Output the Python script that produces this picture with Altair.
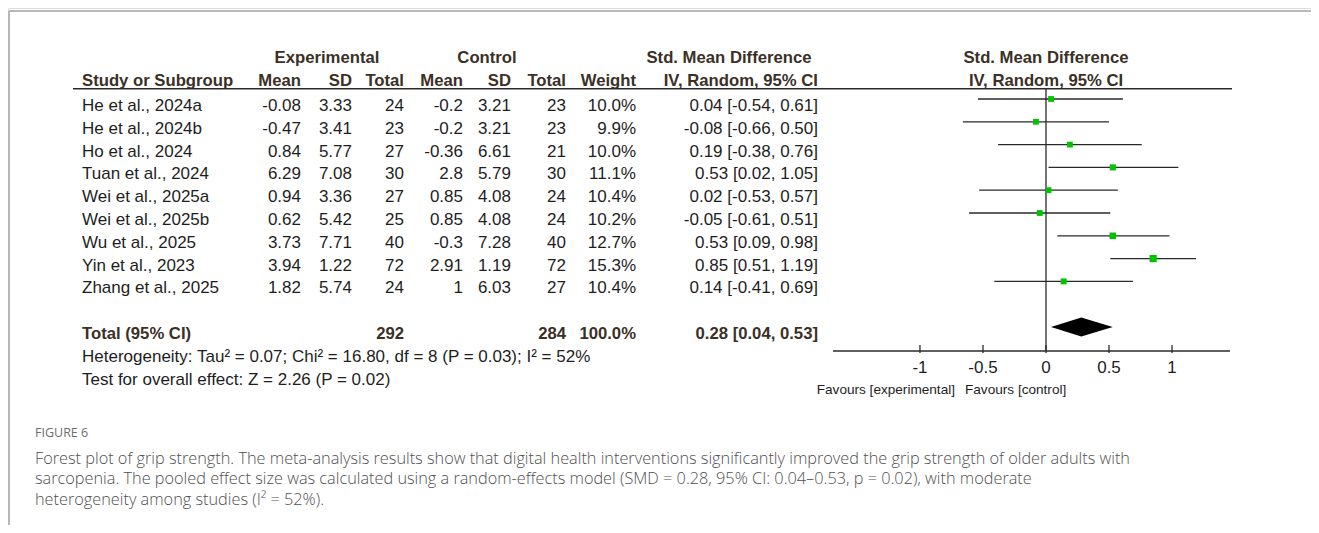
import altair as alt
import pandas as pd

# ---------------- data ----------------
studies = ["He et al., 2024a", "He et al., 2024b", "Ho et al., 2024", "Tuan et al., 2024",
           "Wei et al., 2025a", "Wei et al., 2025b", "Wu et al., 2025", "Yin et al., 2023",
           "Zhang et al., 2025"]
exp_mean = [-0.08, -0.47, 0.84, 6.29, 0.94, 0.62, 3.73, 3.94, 1.82]
exp_sd = [3.33, 3.41, 5.77, 7.08, 3.36, 5.42, 7.71, 1.22, 5.74]
exp_n = [24, 23, 27, 30, 27, 25, 40, 72, 24]
ctl_mean = [-0.2, -0.2, -0.36, 2.8, 0.85, 0.85, -0.3, 2.91, 1]
ctl_sd = [3.21, 3.21, 6.61, 5.79, 4.08, 4.08, 7.28, 1.19, 6.03]
ctl_n = [23, 23, 21, 30, 24, 24, 40, 72, 27]
weights = [10.0, 9.9, 10.0, 11.1, 10.4, 10.2, 12.7, 15.3, 10.4]
smd = [0.04, -0.08, 0.19, 0.53, 0.02, -0.05, 0.53, 0.85, 0.14]
ci_lo = [-0.54, -0.66, -0.38, 0.02, -0.53, -0.61, 0.09, 0.51, -0.41]
ci_hi = [0.61, 0.50, 0.76, 1.05, 0.57, 0.51, 0.98, 1.19, 0.69]

total_label = "Total (95% CI)"
total_exp_n = 292
total_ctl_n = 284
total_weight = 100.0
total_smd = 0.28
total_lo = 0.04
total_hi = 0.53

heterogeneity = "Heterogeneity: Tau\u00b2 = 0.07; Chi\u00b2 = 16.80, df = 8 (P = 0.03); I\u00b2 = 52%"
overall = "Test for overall effect: Z = 2.26 (P = 0.02)"

tick_values = [-1, -0.5, 0, 0.5, 1]
tick_labels = ["-1", "-0.5", "0", "0.5", "1"]
axis_domain = [-1.69, 1.46]
favours_left = "Favours [experimental]"
favours_right = "Favours [control]"

header_top = ["Experimental", "Control", "Std. Mean Difference", "Std. Mean Difference"]
header_sub = ["Study or Subgroup", "Mean", "SD", "Total", "Mean", "SD", "Total", "Weight",
              "IV, Random, 95% CI", "IV, Random, 95% CI"]

fig_label = "FIGURE 6"
caption_lines = [
    "Forest plot of grip strength. The meta-analysis results show that digital health interventions significantly improved the grip strength of older adults with",
    "sarcopenia. The pooled effect size was calculated using a random-effects model (SMD = 0.28, 95% CI: 0.04\u20130.53, p = 0.02), with moderate",
    "heterogeneity among studies (I\u00b2 = 52%).",
]

# ---------------- frames ----------------
def s(v):
    return str(v)

n = len(studies)
df = pd.DataFrame({
    "row": list(range(n)),
    "study": studies,
    "em": [s(v) for v in exp_mean], "esd": [s(v) for v in exp_sd], "en": [s(v) for v in exp_n],
    "cm": [s(v) for v in ctl_mean], "csd": [s(v) for v in ctl_sd], "cn": [s(v) for v in ctl_n],
    "w": weights, "smd": smd, "lo": ci_lo, "hi": ci_hi,
})
df["wtxt"] = [f"{w:.1f}%" for w in weights]
df["citxt"] = [f"{a:.2f} [{l:.2f}, {h:.2f}]" for a, l, h in zip(smd, ci_lo, ci_hi)]

TOTAL_ROW = n + 1
tot = pd.DataFrame({
    "row": [TOTAL_ROW], "label": [total_label], "en": [s(total_exp_n)], "cn": [s(total_ctl_n)],
    "wtxt": [f"{total_weight:.1f}%"],
    "citxt": [f"{total_smd:.2f} [{total_lo:.2f}, {total_hi:.2f}]"],
})
half = 0.415
diamond = pd.DataFrame({
    "x": [total_lo, total_smd, total_hi],
    "y": [TOTAL_ROW, TOTAL_ROW - half, TOTAL_ROW],
    "y2": [TOTAL_ROW, TOTAL_ROW + half, TOTAL_ROW],
})
stats = pd.DataFrame({"row": [TOTAL_ROW + 1, TOTAL_ROW + 2], "txt": [heterogeneity, overall]})
ticks = pd.DataFrame({"v": tick_values, "lab": tick_labels})
axis_df = pd.DataFrame({"a": [axis_domain[0]], "b": [axis_domain[1]], "z": [0.0]})
one = pd.DataFrame({"a": [0]})

FONT = "Liberation Sans"
FS = 17
FSB = 16.7
TXT = "#1e1e1e"
HDR = "#3b3026"
LINE = "#2a2a2a"

xscale = alt.Scale(domain=axis_domain, range=[825, 1222])
yscale = alt.Scale(domain=[0, 10], range=[91, 319])
Y = alt.Y("row:Q", scale=yscale, axis=None)

layers = []

def col(data, field, x, align="right", bold=False, dy=7):
    return alt.Chart(data).mark_text(
        align=align, baseline="middle", dy=dy, font=FONT, fontSize=FSB if bold else FS,
        fontWeight="bold" if bold else "normal", color=HDR if bold else TXT,
    ).encode(x=alt.value(x), y=Y, text=alt.Text(field))

for field, x, al in [("study", 74, "left"), ("em", 293, "right"), ("esd", 344, "right"),
                     ("en", 396, "right"), ("cm", 455, "right"), ("csd", 503, "right"),
                     ("cn", 558, "right"), ("wtxt", 628, "right"), ("citxt", 810, "right")]:
    layers.append(col(df, field, x, al))

for field, x, al in [("label", 74, "left"), ("en", 396, "right"), ("cn", 558, "right"),
                     ("wtxt", 628, "right"), ("citxt", 810, "right")]:
    layers.append(col(tot, field, x, al, bold=True))

layers.append(col(stats, "txt", 74, "left"))

# headers
htop = pd.DataFrame({"row": [-2] * 4, "t": header_top, "x": [319, 479, 721, 1038]})
hsub = pd.DataFrame({"row": [-1] * 10, "t": header_sub,
                     "x": [74, 293, 344, 396, 455, 503, 558, 628, 810, 1038],
                     "al": ["left", "right", "right", "right", "right", "right", "right",
                            "right", "right", "center"]})
for i, r in htop.iterrows():
    layers.append(col(htop.iloc[[i]], "t", int(r["x"]), "center", bold=True, dy=5))
for i, r in hsub.iterrows():
    layers.append(col(hsub.iloc[[i]], "t", int(r["x"]), r["al"], bold=True, dy=5))

# header line
layers.append(alt.Chart(one).mark_rule(color=LINE, strokeWidth=1.5).encode(
    x=alt.value(65), x2=alt.value(1224), y=alt.value(80.7)))

# zero line
layers.append(alt.Chart(axis_df).mark_rule(color=LINE, strokeWidth=1.3).encode(
    x=alt.X("z:Q", scale=xscale, axis=None), y=alt.value(80.7), y2=alt.value(343)))

# CI lines
layers.append(alt.Chart(df).mark_rule(color=LINE, strokeWidth=1.3).encode(
    x=alt.X("lo:Q", scale=xscale, axis=None), x2="hi:Q", y=Y))

# squares
layers.append(alt.Chart(df).mark_square(filled=True, color="#00c400", opacity=1).encode(
    x=alt.X("smd:Q", scale=xscale, axis=None), y=Y,
    size=alt.Size("w:Q", scale=alt.Scale(domain=[0, 16], range=[0, 54]), legend=None)))

# diamond
layers.append(alt.Chart(diamond).mark_area(color="#000000", orient="vertical", opacity=1).encode(
    x=alt.X("x:Q", scale=xscale, axis=None),
    y=alt.Y("y:Q", scale=yscale, axis=None), y2="y2:Q"))

# x axis line
layers.append(alt.Chart(axis_df).mark_rule(color=LINE, strokeWidth=1.3).encode(
    x=alt.X("a:Q", scale=xscale, axis=None), x2="b:Q", y=alt.value(343)))

# ticks (pointing upward)
layers.append(alt.Chart(ticks).mark_rule(color=LINE, strokeWidth=1.3).encode(
    x=alt.X("v:Q", scale=xscale, axis=None), y=alt.value(337), y2=alt.value(345)))

# tick labels
layers.append(alt.Chart(ticks).mark_text(
    align="center", baseline="middle", font=FONT, fontSize=FS, color=TXT).encode(
    x=alt.X("v:Q", scale=xscale, axis=None), y=alt.value(360), text="lab:N"))

# favours labels
layers.append(alt.Chart(pd.DataFrame({"t": [favours_left]})).mark_text(
    align="right", baseline="middle", font=FONT, fontSize=13.6, color=TXT).encode(
    x=alt.value(947), y=alt.value(382), text="t:N"))
layers.append(alt.Chart(pd.DataFrame({"t": [favours_right]})).mark_text(
    align="left", baseline="middle", font=FONT, fontSize=13.6, color=TXT).encode(
    x=alt.value(957), y=alt.value(382), text="t:N"))

# frame
layers.append(alt.Chart(one).mark_rule(color="#b8b8b8", strokeWidth=2).encode(
    x=alt.value(1), x2=alt.value(1303), y=alt.value(3)))
layers.append(alt.Chart(one).mark_rule(color="#b8b8b8", strokeWidth=2).encode(
    x=alt.value(1), y=alt.value(3), y2=alt.value(522)))

# caption
CFONT = "Open Sans"
layers.append(alt.Chart(pd.DataFrame({"t": [fig_label]})).mark_text(
    align="left", baseline="middle", font=CFONT, fontSize=12.5, color="#6e6e6e").encode(
    x=alt.value(27), y=alt.value(425), text="t:N"))
for k, line in enumerate(caption_lines):
    layers.append(alt.Chart(pd.DataFrame({"t": [line]})).mark_text(
        align="left", baseline="middle", font=CFONT, fontSize=16.3, fontWeight=300,
        color="#4f4f4f").encode(x=alt.value(27), y=alt.value(451 + 20.3 * k), text="t:N"))

chart = alt.layer(*layers).properties(
    width=1303, height=517, autosize="none", padding=0
).configure_view(strokeWidth=0).configure(background="white")

chart.save("out.html", embed_options={"renderer": "svg", "actions": False})
